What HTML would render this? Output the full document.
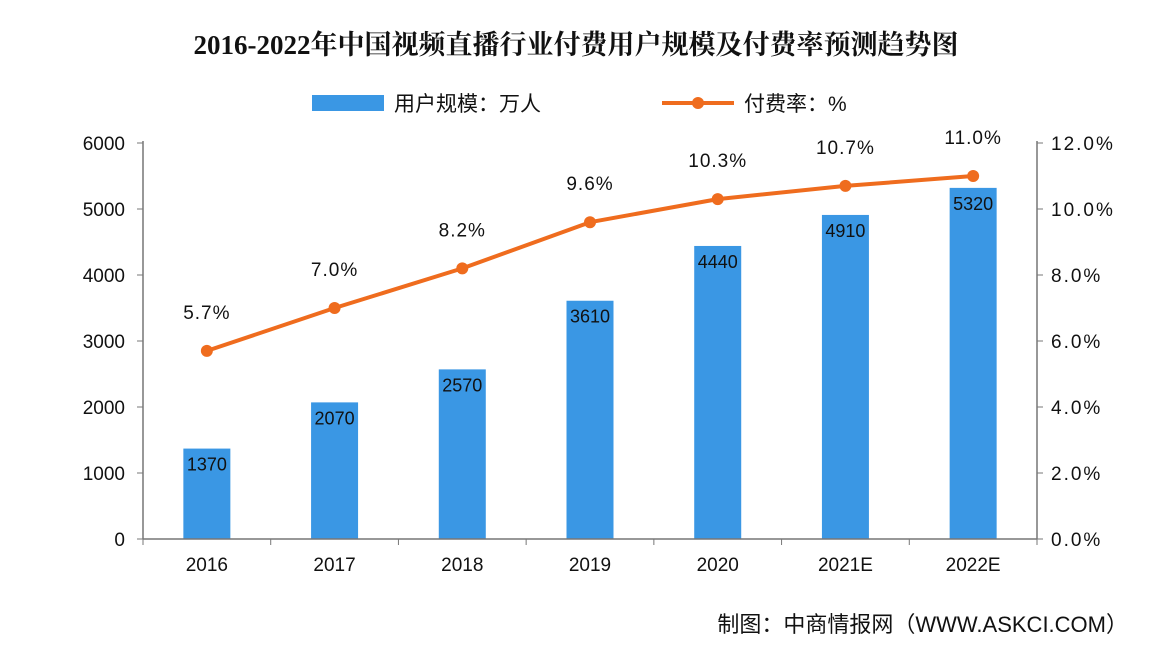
<!DOCTYPE html>
<html><head><meta charset="utf-8"><style>
body{margin:0;background:#fff;width:1152px;height:652px;overflow:hidden}
text{font-family:"Liberation Sans","Noto Sans CJK SC",sans-serif}
</style></head><body>
<svg id="c" width="1152" height="652">
<text x="576" y="54" text-anchor="middle" font-size="27" font-weight="bold" fill="#111" style="font-family:'Liberation Serif','Noto Serif CJK SC',serif">2016-2022年中国视频直播行业付费用户规模及付费率预测趋势图</text>
<g>
<rect x="312" y="95" width="72" height="16" fill="#3a97e4"/>
<text x="394" y="111" font-size="21" fill="#111">用户规模：万人</text>
<line x1="662" y1="103" x2="734" y2="103" stroke="#ef6c1e" stroke-width="4"/>
<circle cx="698" cy="103" r="6" fill="#ef6c1e"/>
<text x="744" y="111" font-size="21" fill="#111">付费率：%</text>
</g>
<text x="1128" y="632" text-anchor="end" font-size="22" fill="#111">制图：中商情报网（WWW.ASKCI.COM）</text>
</svg>
<script>
const categories=["2016","2017","2018","2019","2020","2021E","2022E"];
const users=[1370,2070,2570,3610,4440,4910,5320];
const rates=[5.7,7.0,8.2,9.6,10.3,10.7,11.0];
const leftTicks=[0,1000,2000,3000,4000,5000,6000];
const rightTicks=[0,2,4,6,8,10,12];
const svg=document.getElementById('c');const NS='http://www.w3.org/2000/svg';
const X0=143,X1=1037,Y0=539,Y1=143;
const band=(X1-X0)/categories.length;
const xc=i=>X0+band*(i+0.5);
const yl=v=>Y0-(v/6000)*(Y0-Y1);
const yr=v=>Y0-(v/12)*(Y0-Y1);
function el(t,a,txt){const e=document.createElementNS(NS,t);for(const k in a)e.setAttribute(k,a[k]);if(txt!==undefined)e.textContent=txt;svg.appendChild(e);return e;}
users.forEach((v,i)=>{const r=el('rect',{x:xc(i)-23.5,y:yl(v),width:47,height:Y0-yl(v),fill:'#3a97e4'});


const t=el('text',{x:xc(i),y:yl(v)+Math.min(22,(Y0-yl(v))/2+7) ,'text-anchor':'middle','font-size':18,fill:'#111'},String(v));

});
// axes
let a=el('line',{x1:X0,y1:Y1-2,x2:X0,y2:Y0,stroke:'#777','stroke-width':1.5});


a=el('line',{x1:X1,y1:Y1-2,x2:X1,y2:Y0,stroke:'#777','stroke-width':1.5});


a=el('line',{x1:X0,y1:Y0,x2:X1,y2:Y0,stroke:'#777','stroke-width':1.5});


leftTicks.forEach(v=>{el('line',{x1:X0-6,y1:yl(v),x2:X0,y2:yl(v),stroke:'#777'});
const t=el('text',{x:X0-18,y:yl(v)+7,'text-anchor':'end','font-size':19,fill:'#111'},String(v));

});
rightTicks.forEach(v=>{el('line',{x1:X1,y1:yr(v),x2:X1+6,y2:yr(v),stroke:'#777'});
const t=el('text',{x:X1+14,y:yr(v)+7,'font-size':19,fill:'#111','letter-spacing':'2'},v.toFixed(1)+'%');

});
for(let i=0;i<=categories.length;i++)el('line',{x1:X0+band*i,y1:Y0,x2:X0+band*i,y2:Y0+6,stroke:'#777'});
categories.forEach((c,i)=>{const t=el('text',{x:xc(i),y:Y0+32,'text-anchor':'middle','font-size':19,fill:'#111'},c);

});
const pts=rates.map((v,i)=>xc(i)+','+yr(v)).join(' ');
const pl=el('polyline',{points:pts,fill:'none',stroke:'#ef6c1e','stroke-width':4,'stroke-linejoin':'round'});


rates.forEach((v,i)=>{const c=el('circle',{cx:xc(i),cy:yr(v),r:6,fill:'#ef6c1e'});


const t=el('text',{x:xc(i),y:yr(v)-32,'text-anchor':'middle','font-size':19,fill:'#111','letter-spacing':'1'},v.toFixed(1)+'%');

});
</script>
</body></html>
